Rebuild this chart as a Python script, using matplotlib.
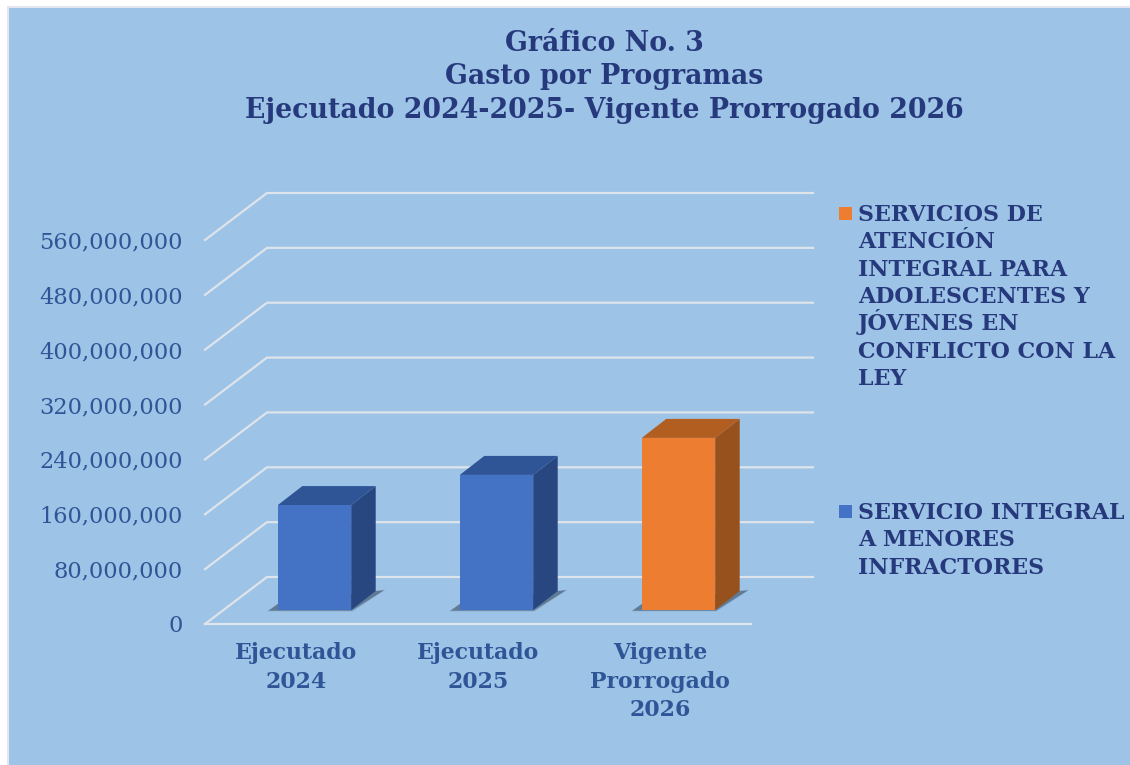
import matplotlib
matplotlib.use("Agg")
import matplotlib.pyplot as plt
from matplotlib.patches import Polygon, Rectangle

CATEGORIES = ["Ejecutado\n2024", "Ejecutado\n2025", "Vigente\nProrrogado\n2026"]
VALUES = [153000000, 197000000, 251000000]
BAR_KIND = ["menores", "menores", "adolescentes"]
TICKS = [0, 80000000, 160000000, 240000000, 320000000, 400000000, 480000000, 560000000]
TITLE = ["Gráfico No. 3", "Gasto por Programas", "Ejecutado 2024-2025- Vigente Prorrogado 2026"]
LEGEND_TOP = ["SERVICIOS DE", "ATENCIÓN", "INTEGRAL PARA", "ADOLESCENTES Y", "JÓVENES EN",
              "CONFLICTO CON LA", "LEY"]
LEGEND_BOTTOM = ["SERVICIO INTEGRAL", "A MENORES", "INFRACTORES"]

BG = "#9DC3E6"
GRID = "#DDE4EC"
TITLE_COLOR = "#26397C"
AXIS_COLOR = "#2F5597"
COLORS = {
    "menores": ("#4472C4", "#2F5597", "#28467F"),
    "adolescentes": ("#ED7D31", "#B25E20", "#97511C"),
}
FONT = "DejaVu Serif"
W, H = 1130, 765


def px_x(px):
    return px / 182.0


def px_y(px):
    return px / 384.0 * 560000000


def text_lines(lines, x, first_baseline, step, **kw):
    # one text per line, accents would otherwise push the line spacing around
    for n, line in enumerate(lines):
        fig.text(x / W, 1 - (first_baseline + n * step) / H, line, va="baseline",
                 fontfamily=FONT, fontweight="bold", color=TITLE_COLOR, **kw)


fig = plt.figure(figsize=(W / 100, H / 100), dpi=100, facecolor="white")
fig.add_artist(Rectangle((8 / W, -0.01), 1.1, 1.01 - 7 / H, transform=fig.transFigure,
                         facecolor=BG, edgecolor="#E3E6EE", linewidth=1.5, zorder=-1))

ax = fig.add_axes([205 / W, (H - 624) / H, 546 / W, 384 / H])
ax.set_xlim(-0.5, 2.5)
ax.set_ylim(0, 560000000)
ax.patch.set_alpha(0)
for s in ax.spines.values():
    s.set_visible(False)

# back wall, side wall and floor lines
depth_x, depth_y = px_x(62), px_y(47)
for t in TICKS:
    ax.plot([-0.5, -0.5 + depth_x, 2.5 + depth_x], [t, t + depth_y, t + depth_y],
            color=GRID, lw=1.6, clip_on=False, solid_joinstyle="miter", zorder=1)
ax.plot([-0.5, 2.5], [0, 0], color=GRID, lw=1.6, clip_on=False, zorder=1)

# the bars, drawn as a front face with top and side faces behind it
half = px_x(36.7)
shift_x = px_x(18.5)
base = px_y(14)
dep_x, dep_y = px_x(24.5), px_y(19)
for i in range(len(VALUES)):
    front, top, side = COLORS[BAR_KIND[i]]
    x0 = i - half + shift_x
    x1 = i + half + shift_x
    y0 = base
    y1 = base + VALUES[i]
    for grow, alpha in [(3, 0.10), (2, 0.18), (1, 0.30)]:
        shadow = [(x0 - px_x(8 + grow), y0 - px_y(grow / 2)),
                  (x1 + px_x(grow / 2), y0 - px_y(grow / 2)),
                  (x1 + dep_x + px_x(7 + grow), y0 + dep_y + px_y(grow / 2)),
                  (x1 + dep_x, y0 + dep_y), (x0, y0 + px_y(6))]
        ax.add_patch(Polygon(shadow, closed=True, facecolor="#1F2F3F", edgecolor="none",
                             alpha=alpha, clip_on=False, zorder=2))
    ax.add_patch(Polygon([(x1, y0), (x1 + dep_x, y0 + dep_y), (x1 + dep_x, y1 + dep_y), (x1, y1)],
                         closed=True, facecolor=side, edgecolor="none", clip_on=False, zorder=3))
    ax.add_patch(Polygon([(x0, y1), (x1, y1), (x1 + dep_x, y1 + dep_y), (x0 + dep_x, y1 + dep_y)],
                         closed=True, facecolor=top, edgecolor="none", clip_on=False, zorder=3))
    ax.add_patch(Rectangle((x0, y0), x1 - x0, y1 - y0, facecolor=front, edgecolor="none",
                           clip_on=False, zorder=4))

ax.set_yticks(TICKS)
ax.set_yticklabels([f"{t:,}" for t in TICKS], fontfamily=FONT, fontsize=16.2, color=AXIS_COLOR)
ax.set_xticks(range(len(CATEGORIES)))
ax.set_xticklabels(CATEGORIES, fontfamily=FONT, fontsize=15.8, fontweight="bold",
                   color=AXIS_COLOR, linespacing=1.38)
ax.tick_params(axis="y", length=0, pad=16)
ax.tick_params(axis="x", length=0, pad=13)

text_lines(TITLE, 604, 51, 33.5, ha="center", fontsize=19.3)

# legend
text_lines(LEGEND_TOP, 858, 221, 27.33, ha="left", fontsize=15.9)
text_lines(LEGEND_BOTTOM, 858, 519, 27.33, ha="left", fontsize=15.9)
fig.add_artist(Rectangle((839 / W, 1 - 220 / H), 13 / W, 13 / H, transform=fig.transFigure,
                         facecolor="#ED7D31", edgecolor="none"))
fig.add_artist(Rectangle((839 / W, 1 - 518 / H), 13 / W, 13 / H, transform=fig.transFigure,
                         facecolor="#4472C4", edgecolor="none"))

fig.savefig("out.png", dpi=100)
